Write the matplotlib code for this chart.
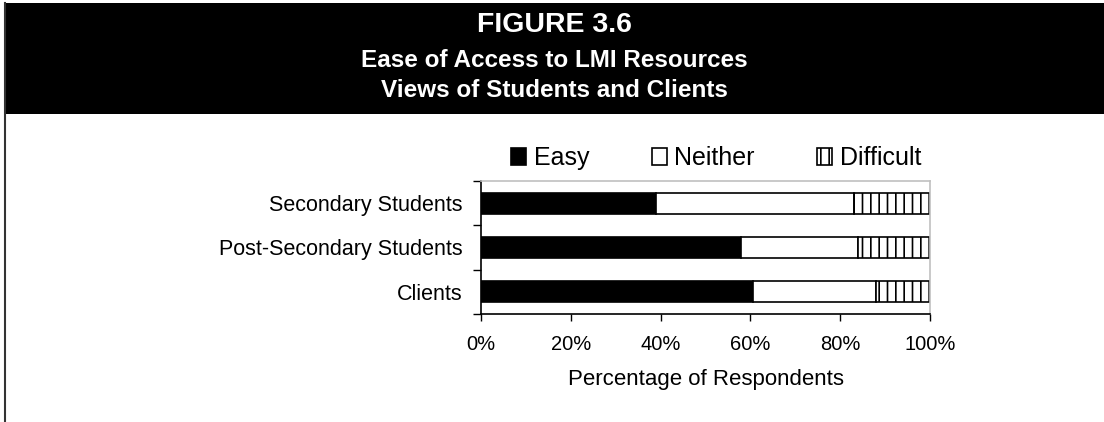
import numpy as np
import matplotlib.pyplot as plt
from matplotlib.patches import Rectangle
from matplotlib.lines import Line2D
from matplotlib.ticker import FixedLocator, FuncFormatter

plt.rcParams['font.family'] = ['Liberation Sans', 'DejaVu Sans']
plt.rcParams['hatch.linewidth'] = 1.2

groups = ["Secondary Students", "Post-Secondary Students", "Clients"]
easy = np.array([39.0, 58.0, 60.5])
neither = np.array([44.0, 26.0, 27.5])
difficult = np.array([17.0, 16.0, 12.0])

fig = plt.figure(figsize=(11.04, 4.22), dpi=100)

# black title band and left frame line
W, H = 1104.0, 422.0
fig.add_artist(Rectangle((5 / W, 1 - 114 / H), 1 - 5 / W, 111 / H,
                         transform=fig.transFigure, facecolor='black',
                         edgecolor='none'))
fig.add_artist(Line2D([5.5 / W, 5.5 / W], [0, 1 - 3 / H],
                      transform=fig.transFigure, color='#333333', lw=1.5))

cx = 554 / W
fig.text(cx, 1 - 32 / H, "FIGURE 3.6", color='white', fontsize=20.5,
         fontweight='bold', ha='center', va='baseline')
fig.text(cx, 1 - 67 / H, "Ease of Access to LMI Resources", color='white',
         fontsize=17.5, fontweight='bold', ha='center', va='baseline')
fig.text(cx, 1 - 97 / H, "Views of Students and Clients", color='white',
         fontsize=17.5, fontweight='bold', ha='center', va='baseline')

ax = fig.add_axes([481 / W, 1 - 314 / H, 449 / W, 133 / H])

y = np.arange(len(groups))
h = 0.47
b1 = ax.barh(y, easy, height=h, color='black', edgecolor='black', lw=1.2,
             label='Easy')
b2 = ax.barh(y, neither, left=easy, height=h, color='white',
             edgecolor='black', lw=1.2, label='Neither')
b3 = ax.barh(y, difficult, left=easy + neither, height=h, color='white',
             edgecolor='black', lw=1.2, hatch='||', label='Difficult')

ax.set_xlim(0, 100)
ax.set_ylim(2.5, -0.5)

ax.set_xticks(np.arange(0, 101, 20))
ax.xaxis.set_major_formatter(FuncFormatter(lambda v, p: f"{v:.0f}%"))
ax.tick_params(axis='x', direction='out', length=5, width=1, pad=10,
               labelsize=14.5)

ax.set_yticks(y)
ax.set_yticklabels(groups)
ax.tick_params(axis='y', which='major', length=0, pad=13, labelsize=15.5)
ax.yaxis.set_minor_locator(FixedLocator([-0.5, 0.5, 1.5, 2.5]))
ax.tick_params(axis='y', which='minor', direction='out', length=6, width=1)

for s in ['top', 'right']:
    ax.spines[s].set_color('#c0c0c0')
    ax.spines[s].set_linewidth(1.2)
for s in ['left', 'bottom']:
    ax.spines[s].set_color('black')
    ax.spines[s].set_linewidth(1.2)

ax.set_xlabel("Percentage of Respondents", fontsize=16, labelpad=11)

fig.legend(handles=[b1, b2, b3], loc='center', ncol=3, frameon=False,
           bbox_to_anchor=(716 / W, 1 - 158 / H), fontsize=18,
           handlelength=0.6, handleheight=0.65, handletextpad=0.3,
           columnspacing=2.5)

fig.savefig("out.png", dpi=100)
